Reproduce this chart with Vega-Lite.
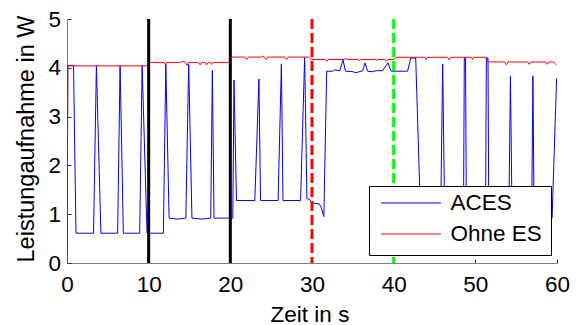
{
  "$schema": "https://vega.github.io/schema/vega-lite/v6.json",
  "width": 490,
  "height": 244,
  "autosize": "none",
  "padding": {"left": 67, "top": 19, "right": 25, "bottom": 62},
  "background": "white",
  "config": {
    "view": {"stroke": null},
    "font": "Liberation Sans",
    "axis": {
      "grid": false,
      "domainColor": "#7f7f7f",
      "domainWidth": 1,
      "tickColor": "#333333",
      "tickSize": -4,
      "labelColor": "black",
      "labelFontSize": 22.5,
      "titleColor": "black",
      "titleFontWeight": "normal"
    }
  },
  "datasets": {
    "leistung": [
      {"t": 0, "p": 0, "serie": "ACES"},
      {"t": 0.1, "p": 4.05, "serie": "ACES"},
      {"t": 0.8, "p": 4.05, "serie": "ACES"},
      {"t": 1.1, "p": 0.61, "serie": "ACES"},
      {"t": 3.25, "p": 0.61, "serie": "ACES"},
      {"t": 3.6, "p": 4.05, "serie": "ACES"},
      {"t": 4.15, "p": 0.61, "serie": "ACES"},
      {"t": 6.2, "p": 0.61, "serie": "ACES"},
      {"t": 6.5, "p": 4.05, "serie": "ACES"},
      {"t": 6.9, "p": 0.61, "serie": "ACES"},
      {"t": 8.9, "p": 0.61, "serie": "ACES"},
      {"t": 9.2, "p": 4.05, "serie": "ACES"},
      {"t": 9.8, "p": 0.61, "serie": "ACES"},
      {"t": 11.8, "p": 0.61, "serie": "ACES"},
      {"t": 12.1, "p": 4.07, "serie": "ACES"},
      {"t": 12.5, "p": 0.92, "serie": "ACES"},
      {"t": 13.5, "p": 0.9, "serie": "ACES"},
      {"t": 14.55, "p": 0.92, "serie": "ACES"},
      {"t": 14.9, "p": 4.07, "serie": "ACES"},
      {"t": 15.3, "p": 0.92, "serie": "ACES"},
      {"t": 16.5, "p": 0.9, "serie": "ACES"},
      {"t": 17.6, "p": 0.92, "serie": "ACES"},
      {"t": 17.8, "p": 3.95, "serie": "ACES"},
      {"t": 18.0, "p": 0.92, "serie": "ACES"},
      {"t": 20.3, "p": 0.92, "serie": "ACES"},
      {"t": 20.45, "p": 3.75, "serie": "ACES"},
      {"t": 20.75, "p": 1.28, "serie": "ACES"},
      {"t": 23.0, "p": 1.28, "serie": "ACES"},
      {"t": 23.5, "p": 3.77, "serie": "ACES"},
      {"t": 23.7, "p": 1.28, "serie": "ACES"},
      {"t": 25.85, "p": 1.28, "serie": "ACES"},
      {"t": 26.25, "p": 4.08, "serie": "ACES"},
      {"t": 26.45, "p": 1.28, "serie": "ACES"},
      {"t": 28.6, "p": 1.28, "serie": "ACES"},
      {"t": 29.1, "p": 4.22, "serie": "ACES"},
      {"t": 29.38, "p": 1.32, "serie": "ACES"},
      {"t": 29.7, "p": 1.3, "serie": "ACES"},
      {"t": 30.1, "p": 1.23, "serie": "ACES"},
      {"t": 30.9, "p": 1.21, "serie": "ACES"},
      {"t": 31.1, "p": 1.15, "serie": "ACES"},
      {"t": 31.45, "p": 0.95, "serie": "ACES"},
      {"t": 31.8, "p": 3.93, "serie": "ACES"},
      {"t": 32.55, "p": 3.93, "serie": "ACES"},
      {"t": 32.75, "p": 3.96, "serie": "ACES"},
      {"t": 33.4, "p": 3.94, "serie": "ACES"},
      {"t": 33.8, "p": 4.16, "serie": "ACES"},
      {"t": 34.1, "p": 3.93, "serie": "ACES"},
      {"t": 35.0, "p": 3.92, "serie": "ACES"},
      {"t": 35.4, "p": 3.9, "serie": "ACES"},
      {"t": 36.2, "p": 3.94, "serie": "ACES"},
      {"t": 36.5, "p": 4.1, "serie": "ACES"},
      {"t": 36.8, "p": 3.93, "serie": "ACES"},
      {"t": 37.4, "p": 3.92, "serie": "ACES"},
      {"t": 37.85, "p": 3.94, "serie": "ACES"},
      {"t": 38.65, "p": 3.94, "serie": "ACES"},
      {"t": 39.3, "p": 4.1, "serie": "ACES"},
      {"t": 39.7, "p": 3.93, "serie": "ACES"},
      {"t": 41.7, "p": 3.93, "serie": "ACES"},
      {"t": 42.1, "p": 4.2, "serie": "ACES"},
      {"t": 42.7, "p": 4.2, "serie": "ACES"},
      {"t": 43.3, "p": 0.92, "serie": "ACES"},
      {"t": 45.75, "p": 0.92, "serie": "ACES"},
      {"t": 46.0, "p": 4.08, "serie": "ACES"},
      {"t": 46.25, "p": 0.92, "serie": "ACES"},
      {"t": 48.55, "p": 0.92, "serie": "ACES"},
      {"t": 48.65, "p": 4.2, "serie": "ACES"},
      {"t": 48.8, "p": 4.2, "serie": "ACES"},
      {"t": 48.9, "p": 0.92, "serie": "ACES"},
      {"t": 51.25, "p": 0.92, "serie": "ACES"},
      {"t": 51.35, "p": 4.2, "serie": "ACES"},
      {"t": 51.55, "p": 4.2, "serie": "ACES"},
      {"t": 51.65, "p": 0.92, "serie": "ACES"},
      {"t": 54.1, "p": 0.92, "serie": "ACES"},
      {"t": 54.3, "p": 3.83, "serie": "ACES"},
      {"t": 54.5, "p": 0.92, "serie": "ACES"},
      {"t": 56.9, "p": 0.92, "serie": "ACES"},
      {"t": 57.05, "p": 3.83, "serie": "ACES"},
      {"t": 57.2, "p": 0.92, "serie": "ACES"},
      {"t": 59.4, "p": 0.92, "serie": "ACES"},
      {"t": 59.95, "p": 3.78, "serie": "ACES"},
      {"t": 0, "p": 0, "serie": "Ohne ES"},
      {"t": 0.1, "p": 4.04, "serie": "Ohne ES"},
      {"t": 9.95, "p": 4.04, "serie": "Ohne ES"},
      {"t": 10.05, "p": 4.11, "serie": "Ohne ES"},
      {"t": 11.9, "p": 4.11, "serie": "Ohne ES"},
      {"t": 12.05, "p": 4.05, "serie": "Ohne ES"},
      {"t": 12.2, "p": 4.11, "serie": "Ohne ES"},
      {"t": 13.9, "p": 4.11, "serie": "Ohne ES"},
      {"t": 14.2, "p": 4.14, "serie": "Ohne ES"},
      {"t": 14.5, "p": 4.11, "serie": "Ohne ES"},
      {"t": 14.7, "p": 4.05, "serie": "Ohne ES"},
      {"t": 14.9, "p": 4.11, "serie": "Ohne ES"},
      {"t": 16.1, "p": 4.11, "serie": "Ohne ES"},
      {"t": 16.3, "p": 4.06, "serie": "Ohne ES"},
      {"t": 16.5, "p": 4.11, "serie": "Ohne ES"},
      {"t": 16.9, "p": 4.11, "serie": "Ohne ES"},
      {"t": 17.1, "p": 4.06, "serie": "Ohne ES"},
      {"t": 17.3, "p": 4.11, "serie": "Ohne ES"},
      {"t": 17.5, "p": 4.11, "serie": "Ohne ES"},
      {"t": 17.7, "p": 4.07, "serie": "Ohne ES"},
      {"t": 17.9, "p": 4.11, "serie": "Ohne ES"},
      {"t": 19.9, "p": 4.11, "serie": "Ohne ES"},
      {"t": 20.05, "p": 4.22, "serie": "Ohne ES"},
      {"t": 21.8, "p": 4.22, "serie": "Ohne ES"},
      {"t": 22.0, "p": 4.17, "serie": "Ohne ES"},
      {"t": 22.2, "p": 4.22, "serie": "Ohne ES"},
      {"t": 23.8, "p": 4.22, "serie": "Ohne ES"},
      {"t": 24.0, "p": 4.24, "serie": "Ohne ES"},
      {"t": 24.2, "p": 4.22, "serie": "Ohne ES"},
      {"t": 24.4, "p": 4.17, "serie": "Ohne ES"},
      {"t": 24.6, "p": 4.22, "serie": "Ohne ES"},
      {"t": 26.7, "p": 4.22, "serie": "Ohne ES"},
      {"t": 26.9, "p": 4.17, "serie": "Ohne ES"},
      {"t": 27.1, "p": 4.22, "serie": "Ohne ES"},
      {"t": 29.6, "p": 4.22, "serie": "Ohne ES"},
      {"t": 29.9, "p": 4.17, "serie": "Ohne ES"},
      {"t": 31.6, "p": 4.17, "serie": "Ohne ES"},
      {"t": 31.8, "p": 4.13, "serie": "Ohne ES"},
      {"t": 32.0, "p": 4.17, "serie": "Ohne ES"},
      {"t": 34.0, "p": 4.17, "serie": "Ohne ES"},
      {"t": 34.2, "p": 4.19, "serie": "Ohne ES"},
      {"t": 34.4, "p": 4.17, "serie": "Ohne ES"},
      {"t": 35.6, "p": 4.17, "serie": "Ohne ES"},
      {"t": 35.8, "p": 4.15, "serie": "Ohne ES"},
      {"t": 36.0, "p": 4.17, "serie": "Ohne ES"},
      {"t": 37.7, "p": 4.17, "serie": "Ohne ES"},
      {"t": 37.85, "p": 4.15, "serie": "Ohne ES"},
      {"t": 38.0, "p": 4.17, "serie": "Ohne ES"},
      {"t": 38.9, "p": 4.17, "serie": "Ohne ES"},
      {"t": 39.1, "p": 4.13, "serie": "Ohne ES"},
      {"t": 39.3, "p": 4.17, "serie": "Ohne ES"},
      {"t": 40.0, "p": 4.17, "serie": "Ohne ES"},
      {"t": 40.3, "p": 4.215, "serie": "Ohne ES"},
      {"t": 43.8, "p": 4.215, "serie": "Ohne ES"},
      {"t": 43.95, "p": 4.17, "serie": "Ohne ES"},
      {"t": 44.1, "p": 4.215, "serie": "Ohne ES"},
      {"t": 46.6, "p": 4.215, "serie": "Ohne ES"},
      {"t": 46.8, "p": 4.16, "serie": "Ohne ES"},
      {"t": 47.0, "p": 4.215, "serie": "Ohne ES"},
      {"t": 49.5, "p": 4.215, "serie": "Ohne ES"},
      {"t": 49.65, "p": 4.17, "serie": "Ohne ES"},
      {"t": 49.8, "p": 4.215, "serie": "Ohne ES"},
      {"t": 51.4, "p": 4.215, "serie": "Ohne ES"},
      {"t": 51.55, "p": 4.12, "serie": "Ohne ES"},
      {"t": 53.6, "p": 4.12, "serie": "Ohne ES"},
      {"t": 53.8, "p": 4.06, "serie": "Ohne ES"},
      {"t": 54.0, "p": 4.12, "serie": "Ohne ES"},
      {"t": 56.4, "p": 4.12, "serie": "Ohne ES"},
      {"t": 56.6, "p": 4.07, "serie": "Ohne ES"},
      {"t": 56.8, "p": 4.12, "serie": "Ohne ES"},
      {"t": 58.6, "p": 4.12, "serie": "Ohne ES"},
      {"t": 58.8, "p": 4.07, "serie": "Ohne ES"},
      {"t": 59.0, "p": 4.12, "serie": "Ohne ES"},
      {"t": 59.6, "p": 4.12, "serie": "Ohne ES"},
      {"t": 59.9, "p": 4.06, "serie": "Ohne ES"}
    ],
    "marken": [
      {"t": 10, "art": "Schritt"},
      {"t": 20, "art": "Schritt"},
      {"t": 30, "art": "rot"},
      {"t": 40, "art": "gruen"}
    ]
  },
  "layer": [
    {
      "data": {"name": "leistung"},
      "mark": {"type": "line", "strokeWidth": 1, "clip": true},
      "encoding": {
        "x": {
          "field": "t", "type": "quantitative",
          "scale": {"domain": [0, 60], "nice": false, "zero": false},
          "axis": {
            "title": "Zeit in s",
            "titleFontSize": 22.5,
            "values": [0, 10, 20, 30, 40, 50, 60],
            "labelPadding": 14,
            "labelFlush": false,
            "titleX": 242.5,
            "titleY": 58,
            "titleBaseline": "alphabetic"
          }
        },
        "y": {
          "field": "p", "type": "quantitative",
          "scale": {"domain": [0, 5], "nice": false},
          "axis": {
            "title": "Leistungaufnahme in W",
            "titleFontSize": 23.5,
            "values": [0, 1, 2, 3, 4, 5],
            "labelPadding": 10.5,
            "labelFlush": false,
            "titleX": -34,
            "titleY": 119.5,
            "titleBaseline": "alphabetic",
            "titleAngle": -90
          }
        },
        "color": {
          "field": "serie", "type": "nominal",
          "scale": {"domain": ["ACES", "Ohne ES"], "range": ["#0000ff", "#ff0000"]},
          "legend": {
            "title": null,
            "orient": "none",
            "legendX": 302,
            "legendY": 167,
            "symbolType": "stroke",
            "symbolSize": 3600,
            "symbolStrokeWidth": 1,
            "symbolOffset": 2.5,
            "clipHeight": 16,
            "labelFontSize": 22.5,
            "labelColor": "black",
            "labelOffset": 9,
            "padding": 9,
            "rowPadding": 8,
            "fillColor": "white",
            "strokeColor": "black",
            "cornerRadius": 0
          }
        },
        "order": {"field": "t", "type": "quantitative"}
      }
    },
    {
      "data": {"name": "marken"},
      "transform": [{"filter": "datum.art === 'Schritt'"}],
      "mark": {"type": "rule", "color": "black", "strokeWidth": 3},
      "encoding": {"x": {"field": "t", "type": "quantitative"}}
    },
    {
      "data": {"name": "marken"},
      "transform": [{"filter": "datum.art === 'rot'"}],
      "mark": {"type": "rule", "color": "#ff0000", "strokeWidth": 3, "strokeDash": [10, 4]},
      "encoding": {"x": {"field": "t", "type": "quantitative"}}
    },
    {
      "data": {"name": "marken"},
      "transform": [{"filter": "datum.art === 'gruen'"}],
      "mark": {"type": "rule", "color": "#00ff00", "strokeWidth": 3, "strokeDash": [10, 4]},
      "encoding": {"x": {"field": "t", "type": "quantitative"}}
    }
  ]
}
